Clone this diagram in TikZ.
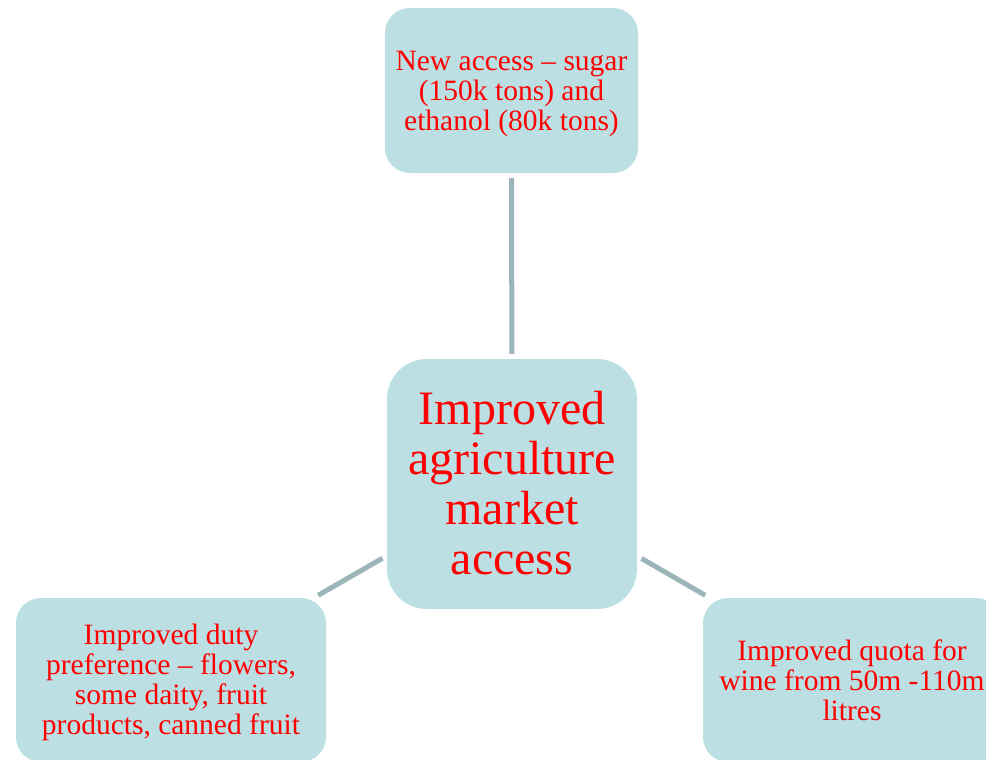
\documentclass[tikz,border=0pt]{standalone}
\usepackage{fontspec}
\setmainfont{Liberation Serif}
\definecolor{boxfill}{HTML}{BBDFE3}
\definecolor{linkc}{HTML}{9CB5B9}
\begin{document}
\begin{tikzpicture}[x=1pt,y=-1pt,
  box/.style={draw=none, fill=boxfill, rounded corners=25pt, inner sep=0pt},
  txt/.style={text=red, align=center, inner sep=0pt},
  smalltxt/.style={txt, font=\fontsize{29.5}{30}\selectfont},
  bigtxt/.style={txt, font=\fontsize{48}{50}\selectfont},
  link/.style={draw=linkc, line width=5pt, shorten >=5pt, shorten <=5pt}]
\useasboundingbox (0,0) rectangle (986,760);
\node[box, minimum width=253pt, minimum height=165pt] (top) at (511.5,90.5) {};
\node[smalltxt] (toptext) at ([yshift=-3pt]top.center)
  {New access – sugar\\(150k tons) and\\ethanol (80k tons)};
\node[box, rounded corners=40pt, minimum width=250pt, minimum height=250pt] (center) at (512,484) {};
\node[bigtxt] (centertext) at ([yshift=1pt]center.center)
  {Improved\\agriculture\\market\\access};
\node[box, minimum width=310pt, minimum height=164pt] (left) at (171,680) {};
\node[smalltxt] (lefttext) at ([yshift=-2.5pt]left.center)
  {Improved duty\\preference – flowers,\\some daity, fruit\\products, canned fruit};
\node[box, minimum width=298pt, minimum height=164pt] (right) at (852,680) {};
\node[smalltxt] (righttext) at (right.center)
  {Improved quota for\\wine from 50m -110m\\litres};
\draw[link] (center) -- (top);
\draw[link] (center) -- (left);
\draw[link] (center) -- (right);
\end{tikzpicture}
\end{document}
